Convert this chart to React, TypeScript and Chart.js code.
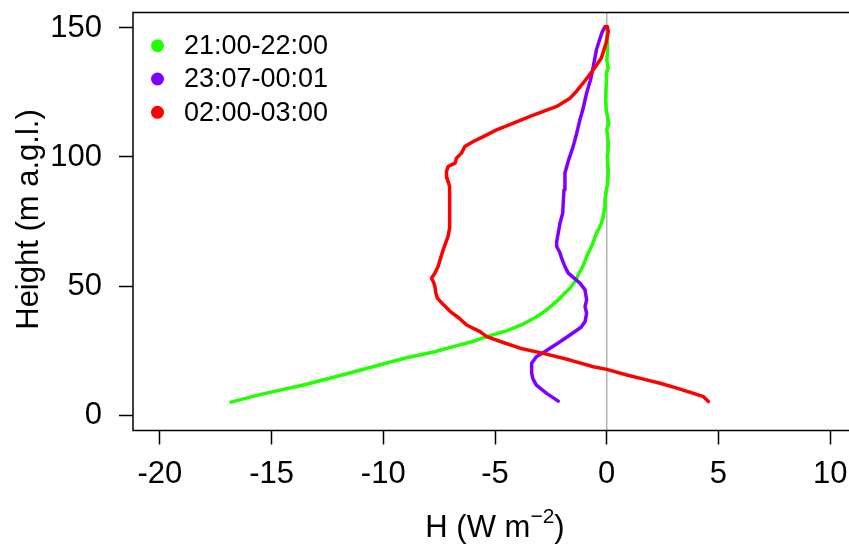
import React, { useEffect, useRef } from "react";
import { Chart, registerables } from "chart.js";

Chart.register(...registerables);

const xTicks = [-20, -15, -10, -5, 0, 5, 10];
const yTicks = [0, 50, 100, 150];
const seriesLabels = ["21:00-22:00", "23:07-00:01", "02:00-03:00"];
const seriesColors = ["#22ff00", "#8000ff", "#ff0000"];

// 21:00-22:00 (green)
const greenHeight = [5, 7.9, 11.9, 16.3, 19.1, 22.2, 24.5, 26.5, 28.5, 30.4, 32.6, 35, 38.1, 41, 44.6, 47, 49.1, 52, 55.6, 58, 61.4, 66, 70.5, 74, 76.9, 80, 83.4, 87, 90, 95, 100, 105, 110.6, 113, 118, 122, 127.4, 130, 132.5, 134.5, 137.6, 140.3, 146.7, 150];
const greenFlux = [-16.82, -15.52, -13.43, -11.5, -10.3, -8.96, -7.7, -6.87, -6.0, -5.37, -4.48, -3.8, -3.13, -2.65, -2.17, -1.9, -1.64, -1.4, -1.2, -1.05, -0.9, -0.65, -0.45, -0.25, -0.15, -0.1, -0.08, -0.02, 0.05, 0.07, 0.03, 0.08, 0, 0.1, -0.02, -0.05, -0.03, 0, -0.03, 0.07, 0, 0.03, 0.03, 0];

// 23:07-00:01 (purple)
const purpleHeight = [5.4, 8.4, 11.6, 14, 16.2, 20.1, 22.6, 24.6, 28.4, 31.9, 34, 36.2, 39.4, 42, 44.6, 48.5, 51.1, 55, 57.5, 60.8, 63, 65.3, 67.2, 70.5, 74.4, 78.2, 83.4, 87.3, 93.8, 99, 104.1, 109, 114.4, 119, 124.8, 130, 135.1, 141.6, 146, 148.5, 150.4];
const purpleFlux = [-2.17, -2.69, -3.15, -3.3, -3.36, -3.36, -3.15, -2.76, -2.09, -1.5, -1.15, -0.97, -0.9, -0.97, -0.9, -0.97, -1.2, -1.72, -1.87, -2.02, -2.1, -2.24, -2.24, -2.17, -2.09, -1.97, -1.94, -1.91, -1.87, -1.7, -1.5, -1.35, -1.2, -1.05, -0.9, -0.72, -0.6, -0.46, -0.3, -0.2, -0.08];

// 02:00-03:00 (red)
const redHeight = [5.2, 7.1, 8.4, 10.5, 12.3, 14, 15.5, 17.7, 18.7, 21.3, 23.9, 25.9, 28, 30.4, 32.3, 34.9, 37.5, 40.1, 42.7, 45.3, 47.5, 49.8, 51.5, 53.0, 55.0, 57.5, 60.1, 64.0, 69.2, 73.0, 78, 83.4, 88.6, 92, 94.4, 96.3, 97.6, 99.6, 101.5, 104.1, 106.0, 108, 110.5, 113, 115.7, 119.6, 122.8, 125.5, 128.7, 133.8, 138.4, 144.2, 148.7, 150.6, 150.4];
const redFlux = [4.55, 4.33, 3.88, 3.1, 2.39, 1.6, 0.9, 0, -0.6, -1.64, -2.84, -3.88, -4.6, -5.37, -5.67, -6.27, -6.6, -7.0, -7.3, -7.58, -7.65, -7.69, -7.75, -7.84, -7.69, -7.55, -7.46, -7.32, -7.1, -7.02, -7.02, -7.02, -7.05, -7.15, -7.17, -7.1, -6.79, -6.72, -6.5, -6.35, -5.97, -5.5, -4.93, -4.2, -3.43, -2.24, -1.64, -1.35, -1.05, -0.6, -0.24, -0.03, 0.07, 0.02, -0.08];

const FONT = '"Liberation Sans", Arial, Helvetica, sans-serif';

const toPoints = (hs: number[], fs: number[]) => hs.map((h, i) => ({ x: fs[i], y: h }));

const overlayPlugin = {
  id: "overlay",
  beforeDatasetsDraw(chart: any) {
    const { ctx, chartArea, scales } = chart;
    const x0 = scales.x.getPixelForValue(0);
    ctx.save();
    ctx.strokeStyle = "#b3b3b3";
    ctx.lineWidth = 1.5;
    ctx.beginPath();
    ctx.moveTo(x0, chartArea.top);
    ctx.lineTo(x0, chartArea.bottom);
    ctx.stroke();
    ctx.restore();
  },
  afterDraw(chart: any) {
    const { ctx, chartArea } = chart;
    ctx.save();
    // box
    ctx.strokeStyle = "#000";
    ctx.lineWidth = 1.5;
    ctx.strokeRect(chartArea.left, chartArea.top, chartArea.right - chartArea.left, chartArea.bottom - chartArea.top);

    // legend
    const ly = [45.7, 79, 112.3];
    ctx.font = `27px ${FONT}`;
    ctx.textBaseline = "middle";
    ctx.textAlign = "left";
    seriesLabels.forEach((lab, i) => {
      ctx.fillStyle = seriesColors[i];
      ctx.beginPath();
      ctx.arc(157.5, ly[i], 6.5, 0, Math.PI * 2);
      ctx.fill();
      ctx.fillStyle = "#000";
      ctx.fillText(lab, 184, ly[i] + 1);
    });

    // x title with superscript
    const cx = (chartArea.left + chartArea.right) / 2;
    const base = 537;
    ctx.textBaseline = "alphabetic";
    ctx.textAlign = "left";
    ctx.font = `31px ${FONT}`;
    const p1 = "H (W m";
    const p3 = ")";
    const w1 = ctx.measureText(p1).width;
    const w3 = ctx.measureText(p3).width;
    ctx.font = `21px ${FONT}`;
    const p2 = "\u22122";
    const w2 = ctx.measureText(p2).width;
    let sx = cx - (w1 + w2 + w3) / 2;
    ctx.fillStyle = "#000";
    ctx.font = `31px ${FONT}`;
    ctx.fillText(p1, sx, base);
    sx += w1;
    ctx.font = `21px ${FONT}`;
    ctx.fillText(p2, sx, base - 14);
    sx += w2;
    ctx.font = `31px ${FONT}`;
    ctx.fillText(p3, sx, base);

    // y title
    ctx.translate(38, (chartArea.top + chartArea.bottom) / 2 - 2);
    ctx.rotate(-Math.PI / 2);
    ctx.textAlign = "center";
    ctx.fillText("Height (m a.g.l.)", 0, 0);
    ctx.restore();
  },
};

const zeroPad = (s: any) => {
  s.paddingTop = 0;
  s.paddingBottom = 0;
  s.paddingLeft = 0;
  s.paddingRight = 0;
};

export default function App() {
  const ref = useRef<HTMLCanvasElement | null>(null);
  useEffect(() => {
    document.body.style.margin = "0";
    const canvas = ref.current!;
    const chart = new Chart(canvas, {
      type: "scatter",
      data: {
        datasets: [
          { label: seriesLabels[2], data: toPoints(redHeight, redFlux), borderColor: seriesColors[2], backgroundColor: seriesColors[2] },
          { label: seriesLabels[1], data: toPoints(purpleHeight, purpleFlux), borderColor: seriesColors[1], backgroundColor: seriesColors[1] },
          { label: seriesLabels[0], data: toPoints(greenHeight, greenFlux), borderColor: seriesColors[0], backgroundColor: seriesColors[0] },
        ].map((d) => ({ ...d, showLine: true, pointRadius: 0, borderWidth: 3.5, tension: 0, borderJoinStyle: "round" as const, borderCapStyle: "round" as const })),
      },
      options: {
        responsive: false,
        animation: false,
        devicePixelRatio: 1,
        layout: { padding: { left: 0, top: 12.5, right: 13, bottom: 0 }, autoPadding: false },
        plugins: { legend: { display: false }, tooltip: { enabled: false } },
        scales: {
          x: {
            type: "linear",
            min: -21.2,
            max: 11.2,
            afterBuildTicks: (s: any) => { s.ticks = xTicks.map((v) => ({ value: v })); },
            afterFit: (s: any) => { s.height = 114.5; zeroPad(s); },
            grid: { display: true, drawOnChartArea: false, drawTicks: true, tickLength: 14, tickColor: "#000", tickWidth: 1.5, color: "#000" },
            border: { display: false },
            ticks: { color: "#000", font: { family: FONT, size: 31 }, padding: 11, maxRotation: 0, autoSkip: false },
          },
          y: {
            type: "linear",
            min: -6,
            max: 156,
            afterBuildTicks: (s: any) => { s.ticks = yTicks.map((v) => ({ value: v })); },
            afterFit: (s: any) => { s.width = 133; zeroPad(s); },
            grid: { display: true, drawOnChartArea: false, drawTicks: true, tickLength: 14, tickColor: "#000", tickWidth: 1.5, color: "#000" },
            border: { display: false },
            ticks: { color: "#000", font: { family: FONT, size: 31 }, padding: 17, autoSkip: false },
          },
        },
      },
      plugins: [overlayPlugin],
    });
    return () => chart.destroy();
  }, []);
  return (
    <div style={{ position: "fixed", left: 0, top: 0, width: 849, height: 545, overflow: "hidden", background: "#fff" }}>
      <canvas ref={ref} width={870} height={545} style={{ width: 870, height: 545, display: "block" }} />
    </div>
  );
}
